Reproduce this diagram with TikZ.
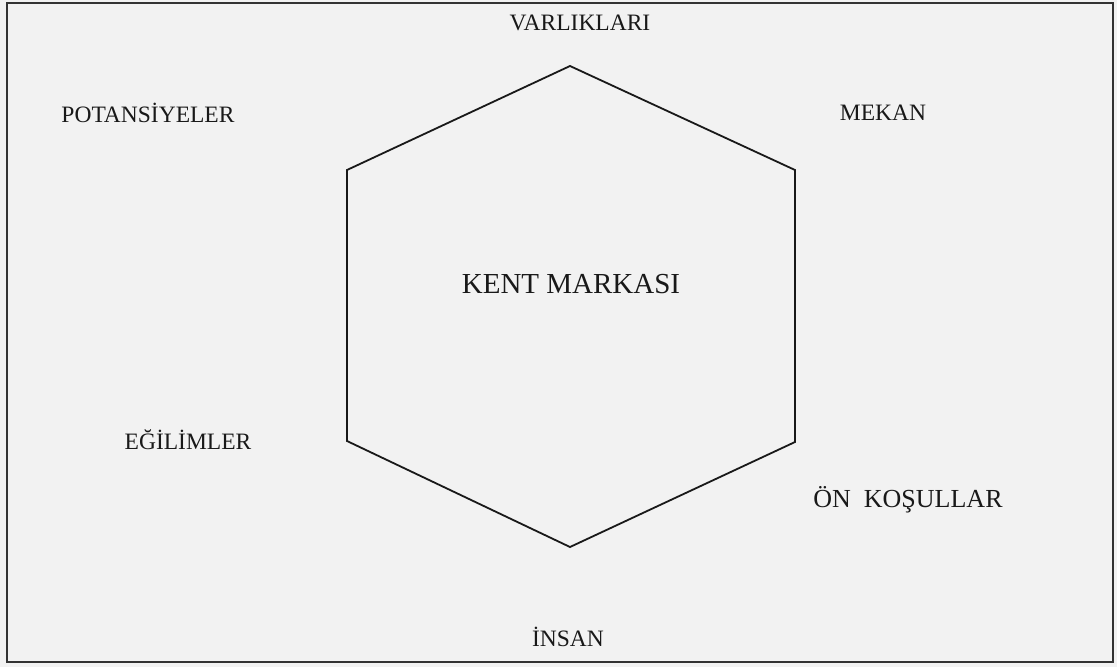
\documentclass[tikz,border=0pt]{standalone}
\usepackage{fontspec}
\setmainfont{Liberation Serif}
\usetikzlibrary{positioning}

\begin{document}
\begin{tikzpicture}[x=1pt, y=-1pt,
    lbl/.style={font=\fontsize{23.5}{26}\selectfont, inner sep=0pt, anchor=base, text=black!90},
    biglbl/.style={lbl, font=\fontsize{29}{32}\selectfont},
    midlbl/.style={lbl, font=\fontsize{26}{29}\selectfont}]
\useasboundingbox (0,0) rectangle (1117,667);
\fill[black!5] (0,0) rectangle (1117,667);
%% outer frame
\draw[line width=2.2pt, black!80] (7,3) rectangle (1113,662);

%% hexagon
\foreach \n/\x/\y in {1/570/66, 2/795/170, 3/795/442, 4/570/547, 5/347/441, 6/347/170}{
  \coordinate (H\n) at (\x,\y);
}
\draw[line width=1.8pt, black!90] (H1)--(H2)--(H3)--(H4)--(H5)--(H6)--cycle;

%% centre
\node[biglbl] (brand) at (571,293) {KENT MARKASI};

%% labels round the hexagon
\node[lbl] (assets) at (580,30) {VARLIKLARI};
\node[lbl] (space) at (883,120) {MEKAN};
\node[midlbl] (precond) at (908,507) {ÖN~~KOŞULLAR};
\node[lbl] (people) at (568,646) {İNSAN};
\node[lbl] (trends) at (188,449) {EĞİLİMLER};
\node[lbl] (potent) at (148,122) {POTANSİYELER};
\end{tikzpicture}
\end{document}
